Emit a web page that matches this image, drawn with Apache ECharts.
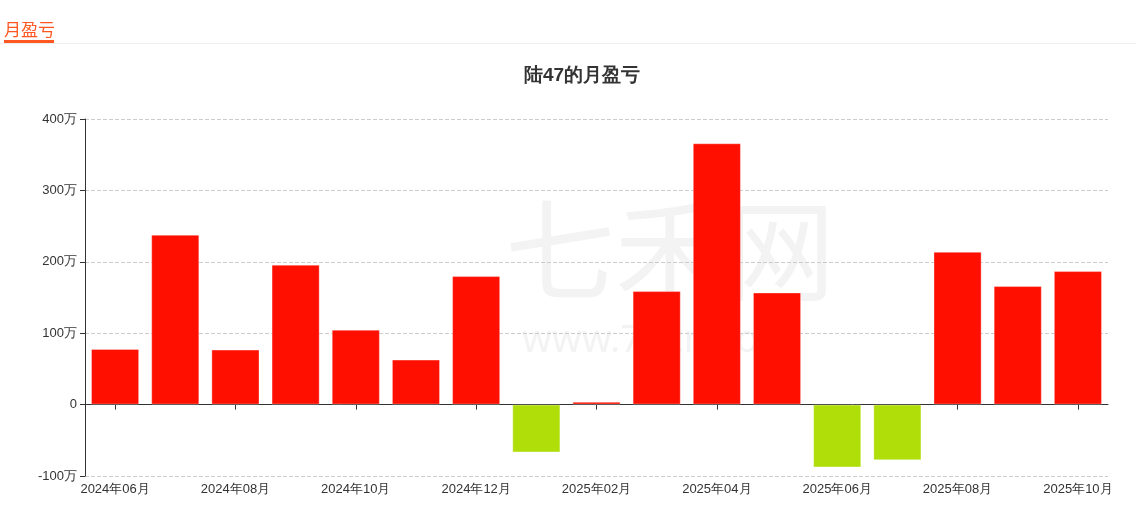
<!DOCTYPE html>
<html><head><meta charset="utf-8">
<script src="https://cdn.jsdelivr.net/npm/echarts@6/dist/echarts.min.js"></script>
<style>html,body{margin:0;padding:0;background:#fff;}#c{width:1136px;height:513px;}</style>
</head><body><div id="c"></div>
<script>
var categories = ['2024年06月','2024年07月','2024年08月','2024年09月','2024年10月','2024年11月','2024年12月','2025年01月','2025年02月','2025年03月','2025年04月','2025年05月','2025年06月','2025年07月','2025年08月','2025年09月','2025年10月'];
var profit = [78, 238, 77, 196, 105, 63, 180, -67, 4, 159, 366, 157, -88, -78, 214, 166, 187];
var chart = echarts.init(document.getElementById('c'));
chart.setOption({
  animation: false,
  title: {text: '陆47的月盈亏', left: 519, top: 61, textStyle: {fontSize: 19, fontWeight: 'bold', color: '#333'}},
  graphic: [
    {type: 'text', left: 4, top: 21, style: {text: '月盈亏', fill: '#ff5722', font: '17px "Noto Sans CJK SC"'}},
    {type: 'rect', shape: {x: 0, y: 43, width: 1136, height: 1}, style: {fill: '#eeeeee'}},
    {type: 'rect', shape: {x: 4, y: 40, width: 50, height: 3}, style: {fill: '#ff5722'}},
    {type: 'text', left: 505, top: 195, z: -1, style: {text: '七禾网', fill: '#f3f3f3', font: '110px "Noto Sans CJK SC"'}},
    {type: 'text', left: 522, top: 322, z: -1, style: {text: 'www.7hcn.com', fill: '#f3f3f3', font: '38px "Noto Sans"'}}
  ],
  grid: {left: 85, right: 28, top: 119, bottom: 37},
  xAxis: [{
    type: 'category', data: categories,
    axisLine: {onZero: true, lineStyle: {color: '#333'}},
    axisTick: {show: true, alignWithLabel: true, interval: 1, length: 5, lineStyle: {color: '#333'}},
    axisLabel: {show: false}
  }, {
    type: 'category', data: categories, position: 'bottom',
    axisLine: {show: false, onZero: false}, axisTick: {show: false},
    axisLabel: {interval: 1, color: '#333', fontSize: 13, margin: 7}
  }],
  yAxis: {
    type: 'value', min: -100, max: 400, interval: 100,
    axisLine: {show: true, lineStyle: {color: '#333'}},
    axisTick: {show: true, lineStyle: {color: '#333'}},
    axisLabel: {color: '#333', fontSize: 13, formatter: function(v){return v === 0 ? '0' : v + '万';}},
    splitLine: {lineStyle: {type: 'dashed', color: '#ccc'}}
  },
  series: [{
    type: 'bar', data: profit, barWidth: '80%', xAxisIndex: 0,
    itemStyle: {
      color: function(p){return p.value < 0 ? '#b0de09' : '#ff0f00';},
      borderColor: 'rgba(255,255,255,0.35)', borderWidth: 1
    }
  }]
});
</script></body></html>
